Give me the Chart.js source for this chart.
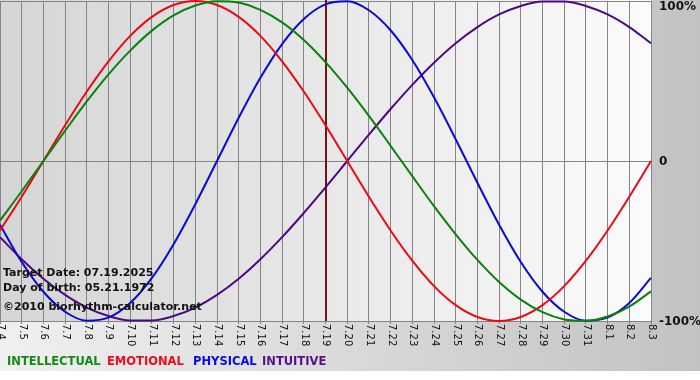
<!DOCTYPE html>
<html><head><meta charset="utf-8">
<script src="https://cdn.jsdelivr.net/npm/chart.js@4"></script>
<style>html,body{margin:0;padding:0;background:#fff;}#wrap{width:700px;height:380px;position:relative;}</style>
</head><body><div id="wrap"><canvas id="c" width="700" height="380"></canvas></div>
<script>
const days = ['7.4','7.5','7.6','7.7','7.8','7.9','7.10','7.11','7.12','7.13','7.14','7.15','7.16','7.17','7.18','7.19','7.20','7.21','7.22','7.23','7.24','7.25','7.26','7.27','7.28','7.29','7.30','7.31','8.1','8.2','8.3'];
const intellectual = [-0.372,-0.189,0,0.189,0.372,0.541,0.690,0.815,0.910,0.972,0.999,0.990,0.945,0.866,0.756,0.618,0.458,0.282,0.095,-0.095,-0.282,-0.458,-0.618,-0.756,-0.866,-0.945,-0.990,-0.999,-0.972,-0.910,-0.815];
const emotional = [-0.434,-0.223,0,0.223,0.434,0.623,0.782,0.901,0.975,1,0.975,0.901,0.782,0.623,0.434,0.223,0,-0.223,-0.434,-0.623,-0.782,-0.901,-0.975,-1,-0.975,-0.901,-0.782,-0.623,-0.434,-0.223,0];
const physical = [-0.398,-0.631,-0.817,-0.942,-0.998,-0.979,-0.888,-0.731,-0.520,-0.270,0,0.270,0.520,0.731,0.888,0.979,0.998,0.942,0.817,0.631,0.398,0.136,-0.136,-0.398,-0.631,-0.817,-0.942,-0.998,-0.979,-0.888,-0.731];
const intuitive = [-0.476,-0.614,-0.736,-0.837,-0.916,-0.969,-0.997,-0.997,-0.969,-0.916,-0.837,-0.736,-0.614,-0.476,-0.325,-0.165,0,0.165,0.325,0.476,0.614,0.736,0.837,0.916,0.969,0.997,0.997,0.969,0.916,0.837,0.736];
const seriesNames = ['INTELLECTUAL','EMOTIONAL','PHYSICAL','INTUITIVE'];
const yTickValues = [1, 0, -1];
const yTickLabels = ['100%', '0', '-100%'];
const targetDay = '7.19';
const infoLines = ['Target Date: 07.19.2025', 'Day of birth: 05.21.1972', '\u00A92010 biorhythm-calculator.net'];

const lineColors = ['#0b800b', '#e80a14', '#0a0ad2', '#4b0a82'];
const legendColors = ['#138a13', '#f00a1e', '#0a0ae6', '#55108e'];
const legendX = [7, 107, 193, 262];
const infoY = [276, 291, 310];
const FONT = '"DejaVu Sans", Verdana, sans-serif';

const decor = {
  id: 'decor',
  beforeDraw(chart) {
    const ctx = chart.ctx, a = chart.chartArea;
    ctx.save();
    ctx.fillStyle = '#ffffff';
    ctx.fillRect(0, 0, chart.width, chart.height);
    let g = ctx.createLinearGradient(0, 0, chart.width, 0);
    g.addColorStop(0, '#f0f0f0');
    g.addColorStop(1, '#c2c2c2');
    ctx.fillStyle = g;
    ctx.fillRect(0, 0, chart.width, 371);
    g = ctx.createLinearGradient(a.left, 0, a.right, 0);
    g.addColorStop(0, '#d5d5d5');
    g.addColorStop(1, '#fbfbfb');
    ctx.fillStyle = g;
    ctx.fillRect(a.left, 0, a.right - a.left, a.bottom);
    ctx.restore();
  },
  beforeDatasetsDraw(chart) {
    const ctx = chart.ctx, a = chart.chartArea, xs = chart.scales.x;
    const x = Math.round(xs.getPixelForValue(days.indexOf(targetDay)));
    ctx.save();
    ctx.strokeStyle = '#6e1414';
    ctx.lineWidth = 2;
    ctx.beginPath();
    ctx.moveTo(x, a.top - 1);
    ctx.lineTo(x, a.bottom);
    ctx.stroke();
    ctx.restore();
  },
  afterDraw(chart) {
    const ctx = chart.ctx, a = chart.chartArea, xs = chart.scales.x, ys = chart.scales.y;
    ctx.save();
    ctx.fillStyle = '#111';
    ctx.font = '10px ' + FONT;
    ctx.textAlign = 'left';
    ctx.textBaseline = 'middle';
    days.forEach((d, i) => {
      const x = xs.getPixelForValue(i);
      ctx.save();
      ctx.translate(x + 0.5, a.bottom + 3);
      ctx.rotate(Math.PI / 2);
      ctx.fillText(d, 0, 0);
      ctx.restore();
    });
    ctx.font = 'bold 12px ' + FONT;
    ctx.fillStyle = '#111';
    yTickValues.forEach((v, i) => {
      let y = ys.getPixelForValue(v) + 1;
      y = Math.max(y, a.top + 6);
      ctx.fillText(yTickLabels[i], a.right + 8, y);
    });
    ctx.font = 'bold 11px ' + FONT;
    ctx.textBaseline = 'alphabetic';
    infoLines.forEach((t, i) => ctx.fillText(t, 3, infoY[i]));
    ctx.font = 'bold 11.5px ' + FONT;
    ctx.textBaseline = 'middle';
    chart.data.datasets.forEach((ds, i) => {
      ctx.fillStyle = legendColors[i];
      ctx.fillText(ds.label, legendX[i], 362);
    });
    ctx.restore();
  }
};

const mk = (label, data, i) => ({
  label, data, borderColor: lineColors[i], backgroundColor: lineColors[i],
  borderWidth: 2, pointRadius: 0, pointHoverRadius: 0, fill: false,
  cubicInterpolationMode: 'monotone', clip: 2
});

new Chart(document.getElementById('c'), {
  type: 'line',
  data: {
    labels: days,
    datasets: [
      mk(seriesNames[0], intellectual, 0),
      mk(seriesNames[1], emotional, 1),
      mk(seriesNames[2], physical, 2),
      mk(seriesNames[3], intuitive, 3)
    ]
  },
  options: {
    responsive: false,
    animation: false,
    devicePixelRatio: 1,
    events: [],
    layout: { padding: { top: 1, left: 0, right: 0, bottom: 0 } },
    plugins: { legend: { display: false }, tooltip: { enabled: false } },
    scales: {
      x: {
        type: 'category',
        offset: false,
        grid: { color: '#858585', lineWidth: 1, drawTicks: true, tickLength: 3, tickColor: '#858585' },
        border: { display: false },
        ticks: { display: false, autoSkip: false },
        afterFit(s) { s.height = 59; }
      },
      y: {
        position: 'right',
        min: -1, max: 1,
        ticks: { stepSize: 1, display: false },
        grid: { color: '#858585', lineWidth: 1, drawTicks: false },
        border: { display: false },
        afterFit(s) { s.width = 49; }
      }
    }
  },
  plugins: [decor]
});
</script>
</body></html>
